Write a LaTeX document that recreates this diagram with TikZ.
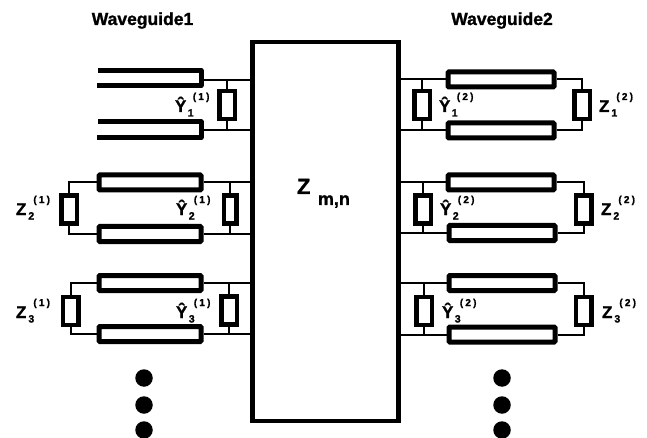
\documentclass[tikz,border=0pt]{standalone}
\usepackage{fontspec}
\setmainfont{Liberation Sans}[BoldFont={* Bold},BoldFeatures={FakeBold=1.2}]
\newcommand\lbl[4]{\fontsize{17}{18}\selectfont\bfseries #1\rlap{\hspace{#4pt}\raisebox{-4.5pt}{\fontsize{10.5}{11}\selectfont #2}}\hspace{#4pt}\hspace{5pt}\raisebox{12pt}{\fontsize{10}{10}\selectfont (\hspace{2.2pt}#3\hspace{2.2pt})}}
\begin{document}
\begin{tikzpicture}[x=1pt,y=-1pt,
  wg/.style={draw=black,fill=white,line width=5pt,rounded corners=1pt,minimum width=#1,minimum height=15pt,inner sep=0pt},
  load/.style={draw=black,fill=white,line width=4.5pt,minimum width=15.5pt,minimum height=28pt,inner sep=0pt},
  wire/.style={line width=2pt,black},
  blob/.style={circle,fill=black,minimum size=17.5pt,inner sep=0pt},
  txt/.style={anchor=base west,inner sep=0pt,outer sep=0pt,black},
  head/.style={anchor=base,inner sep=0pt,font=\fontsize{17.5}{19}\selectfont\bfseries}]
\useasboundingbox (0,0) rectangle (647,438);
\fill[white] (0,0) rectangle (647,438);
\node[draw=black,line width=4.5pt,minimum width=146pt,minimum height=379pt,inner sep=0pt] (main) at (325.5,231.5) {};
\node[head] (h1) at (142.5,25) {Waveguide1};
\node[head] (h2) at (502,25) {Waveguide2};
% left waveguide 1 (open)
\coordinate (o1) at (98,70.5); \coordinate (o2) at (201,70.5); \coordinate (o3) at (201,85.5); \coordinate (o4) at (97,85.5);
\coordinate (o5) at (98,122); \coordinate (o6) at (201,122); \coordinate (o7) at (201,137.5); \coordinate (o8) at (97,137.5);
\coordinate (w1a) at (201,80); \coordinate (w1b) at (201,130);
\draw[black,line width=5pt,line join=round] (o1) -- (o2) -- (o3) -- (o4);
\draw[black,line width=5pt,line join=round] (o5) -- (o6) -- (o7) -- (o8);
% left waveguides 2,3
\node[wg=102pt] (la2) at (150,182.5) {};
\node[wg=102pt] (lb2) at (150,234) {};
\node[wg=102pt] (la3) at (150,283) {};
\node[wg=102pt] (lb3) at (150,334) {};
% left shunts
\node[load] (yl1) at (227,105) {};
\node[load,minimum width=12.5pt] (yl2) at (230,209.5) {};
\node[load] (yl3) at (229,310.5) {};
\node[load] (zl2) at (69,209.5) {};
\node[load] (zl3) at (70.5,311) {};
% right waveguides
\node[wg=106pt] (ra1) at (501,79.5) {};
\node[wg=106pt] (rb1) at (501,130.5) {};
\node[wg=106pt] (ra2) at (501,182.5) {};
\node[wg=106pt] (rb2) at (502,233) {};
\node[wg=106pt] (ra3) at (502,283) {};
\node[wg=106pt] (rb3) at (502,334.5) {};
% right shunts
\node[load] (yr1) at (422,105) {};
\node[load] (yr2) at (423,209.5) {};
\node[load] (yr3) at (424,311) {};
\node[load] (zr1) at (582,105) {};
\node[load] (zr2) at (583.5,209.5) {};
\node[load] (zr3) at (583.5,311) {};
% wires left
\draw[wire] (w1a) -- (w1a -| main.west);
\draw[wire] (w1b) -- (w1b -| main.west);
\draw[wire] (yl1.north) -- (yl1.north |- w1a);
\draw[wire] (yl1.south) -- (yl1.south |- w1b);
\foreach \n in {la2,lb2,la3,lb3} \draw[wire] (\n.east) -- (\n.east -| main.west);
\draw[wire] (yl2.north) -- (yl2.north |- la2.east);
\draw[wire] (yl2.south) -- (yl2.south |- lb2.east);
\draw[wire] (yl3.north) -- (yl3.north |- la3.east);
\draw[wire] (yl3.south) -- (yl3.south |- lb3.east);
\draw[wire] (la2.west) -| (zl2.north);
\draw[wire] (lb2.west) -| (zl2.south);
\draw[wire] (la3.west) -| (zl3.north);
\draw[wire] (lb3.west) -| (zl3.south);
% wires right
\foreach \n in {ra1,rb1,ra2,rb2,ra3,rb3} \draw[wire] (\n.west) -- (\n.west -| main.east);
\draw[wire] (yr1.north) -- (yr1.north |- ra1.west);
\draw[wire] (yr1.south) -- (yr1.south |- rb1.west);
\draw[wire] (yr2.north) -- (yr2.north |- ra2.west);
\draw[wire] (yr2.south) -- (yr2.south |- rb2.west);
\draw[wire] (yr3.north) -- (yr3.north |- ra3.west);
\draw[wire] (yr3.south) -- (yr3.south |- rb3.west);
\draw[wire] (ra1.east) -| (zr1.north);
\draw[wire] (rb1.east) -| (zr1.south);
\draw[wire] (ra2.east) -| (zr2.north);
\draw[wire] (rb2.east) -| (zr2.south);
\draw[wire] (ra3.east) -| (zr3.north);
\draw[wire] (rb3.east) -| (zr3.south);
% labels
\node[txt] (ty1l) at (175,112) {\lbl{Ŷ}{1}{1}{1.5}};
\node[txt] (ty2l) at (176,215) {\lbl{Ŷ}{2}{1}{1.5}};
\node[txt] (ty3l) at (176,318) {\lbl{Ŷ}{3}{1}{1.5}};
\node[txt] (tz2l) at (16,215) {\lbl{Z}{2}{1}{2}};
\node[txt] (tz3l) at (16,318) {\lbl{Z}{3}{1}{2}};
\node[txt] (ty1r) at (439,112) {\lbl{Ŷ}{1}{2}{1.5}};
\node[txt] (ty2r) at (440,215) {\lbl{Ŷ}{2}{2}{1.5}};
\node[txt] (ty3r) at (442,318) {\lbl{Ŷ}{3}{2}{1.5}};
\node[txt] (tz1r) at (599,112) {\lbl{Z}{1}{2}{2}};
\node[txt] (tz2r) at (601,215) {\lbl{Z}{2}{2}{2}};
\node[txt] (tz3r) at (602,318) {\lbl{Z}{3}{2}{2}};
\node[txt] (zmn) at (297,194) {\fontsize{22}{23}\selectfont\bfseries Z\hspace{7.5pt}\raisebox{-11pt}{\fontsize{18}{19}\selectfont m,n}};
% dots
\node[blob] (dl1) at (144,378) {};
\node[blob] (dl2) at (144,405) {};
\node[blob] (dl3) at (144,430) {};
\node[blob] (dr1) at (502,378) {};
\node[blob] (dr2) at (502,405) {};
\node[blob] (dr3) at (502,430) {};
\end{tikzpicture}
\end{document}
